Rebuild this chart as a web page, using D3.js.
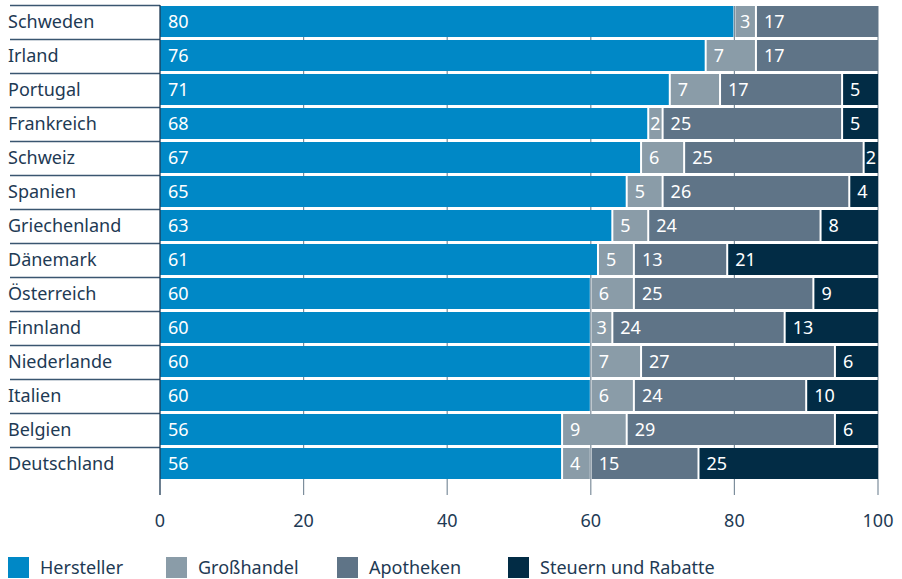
<!DOCTYPE html>
<meta charset="utf-8">
<script src="https://d3js.org/d3.v7.min.js"></script>
<style>
  body { margin: 0; background: #fff; }
  text { font-family: "Noto Sans", sans-serif; }
</style>
<div id="chart"></div>
<script>
// data
var countries = ["Schweden", "Irland", "Portugal", "Frankreich", "Schweiz", "Spanien", "Griechenland",
                 "Dänemark", "Österreich", "Finnland", "Niederlande", "Italien", "Belgien", "Deutschland"];
var hersteller = [80, 76, 71, 68, 67, 65, 63, 61, 60, 60, 60, 60, 56, 56];
var grosshandel = [3, 7, 7, 2, 6, 5, 5, 5, 6, 3, 7, 6, 9, 4];
var apotheken = [17, 17, 17, 25, 25, 26, 24, 13, 25, 24, 27, 24, 29, 15];
var steuern = [0, 0, 5, 5, 2, 4, 8, 21, 9, 13, 6, 10, 6, 25];
var seriesNames = ["Hersteller", "Großhandel", "Apotheken", "Steuern und Rabatte"];
var colors = ["#0088c6", "#8a9ca8", "#5f7487", "#022c45"];
var xTicks = [0, 20, 40, 60, 80, 100];

var width = 902, height = 579;
var margin = {top: 6, left: 160, right: 24};
var textColor = "#1e3a54";
var rowStep = 34, rowGap = 3;

var svg = d3.select("#chart").append("svg")
    .attr("width", width)
    .attr("height", height);

var x = d3.scaleLinear().domain([0, 100]).range([margin.left, width - margin.right]);
var y = d3.scaleBand().domain(countries)
    .range([margin.top, margin.top + rowStep * countries.length - rowGap])
    .paddingInner(rowGap / rowStep).paddingOuter(0);

var table = countries.map(function(c, i) {
  return {country: c, Hersteller: hersteller[i], "Großhandel": grosshandel[i],
          Apotheken: apotheken[i], "Steuern und Rabatte": steuern[i]};
});
var stacked = d3.stack().keys(seriesNames)(table);

var axisBottom = y.range()[1] + 16;

// grid / tick lines
svg.append("g").selectAll("line")
  .data(xTicks.slice(1))
  .enter().append("line")
    .attr("x1", function(d) { return x(d); })
    .attr("x2", function(d) { return x(d); })
    .attr("y1", margin.top)
    .attr("y2", axisBottom)
    .attr("stroke", "#7d8e9c")
    .attr("stroke-width", 1.2);

// row separators in label column
svg.append("g").selectAll("line")
  .data(countries)
  .enter().append("line")
    .attr("x1", 10)
    .attr("x2", margin.left)
    .attr("y1", function(d) { return y(d) - 0.5; })
    .attr("y2", function(d) { return y(d) - 0.5; })
    .attr("stroke", "#3a5670")
    .attr("stroke-width", 1.3);

// bars
var gap = 2;
var layers = svg.append("g").selectAll("g")
  .data(stacked)
  .enter().append("g")
    .attr("fill", function(d, i) { return colors[i]; });

layers.selectAll("rect")
  .data(function(d) { return d.map(function(s) { return {s: s, key: d.key, idx: d.index}; }); })
  .enter().filter(function(d) { return d.s[1] - d.s[0] > 0; })
  .append("rect")
    .attr("x", function(d) { return x(d.s[0]) + (d.idx > 0 ? gap / 2 : 0); })
    .attr("y", function(d) { return y(d.s.data.country); })
    .attr("width", function(d) {
      var w = x(d.s[1]) - x(d.s[0]);
      if (d.idx > 0) w -= gap / 2;
      if (d.s[1] < 100) w -= gap / 2;
      return w;
    })
    .attr("height", y.bandwidth());

// value labels
layers.selectAll("text")
  .data(function(d) { return d.map(function(s) { return {s: s, idx: d.index}; }); })
  .enter().filter(function(d) { return d.s[1] - d.s[0] > 0; })
  .append("text")
    .attr("x", function(d) {
      var w = x(d.s[1]) - x(d.s[0]);
      return w < 25 ? (x(d.s[0]) + x(d.s[1])) / 2 : x(d.s[0]) + 8;
    })
    .attr("text-anchor", function(d) { return (x(d.s[1]) - x(d.s[0])) < 25 ? "middle" : "start"; })
    .attr("y", function(d) { return y(d.s.data.country) + y.bandwidth() / 2; })
    .attr("dy", "0.36em")
    .attr("fill", "#fff")
    .style("font-size", "18px")
    .text(function(d) { return d.s[1] - d.s[0]; });

// zero line
svg.append("line")
  .attr("x1", x(0)).attr("x2", x(0))
  .attr("y1", margin.top - 1).attr("y2", axisBottom)
  .attr("stroke", "#1e3a54")
  .attr("stroke-width", 1.3);

// country labels
svg.append("g").selectAll("text")
  .data(countries)
  .enter().append("text")
    .attr("x", 8)
    .attr("y", function(d) { return y(d) + y.bandwidth() / 2; })
    .attr("dy", "0.36em")
    .attr("fill", textColor)
    .style("font-size", "18px")
    .text(function(d) { return d; });

// x tick labels
svg.append("g").selectAll("text")
  .data(xTicks)
  .enter().append("text")
    .attr("x", function(d) { return x(d); })
    .attr("y", 527)
    .attr("text-anchor", "middle")
    .attr("fill", textColor)
    .style("font-size", "18px")
    .text(function(d) { return d; });

// legend
var legendX = [8, 166, 337, 508];
var legend = svg.append("g").selectAll("g")
  .data(seriesNames)
  .enter().append("g")
    .attr("transform", function(d, i) { return "translate(" + legendX[i] + ",557)"; });
legend.append("rect")
  .attr("width", 21).attr("height", 21)
  .attr("fill", function(d, i) { return colors[i]; });
legend.append("text")
  .attr("x", 32).attr("y", 10.5)
  .attr("dy", "0.36em")
  .attr("fill", textColor)
  .style("font-size", "18px")
  .text(function(d) { return d; });
</script>
